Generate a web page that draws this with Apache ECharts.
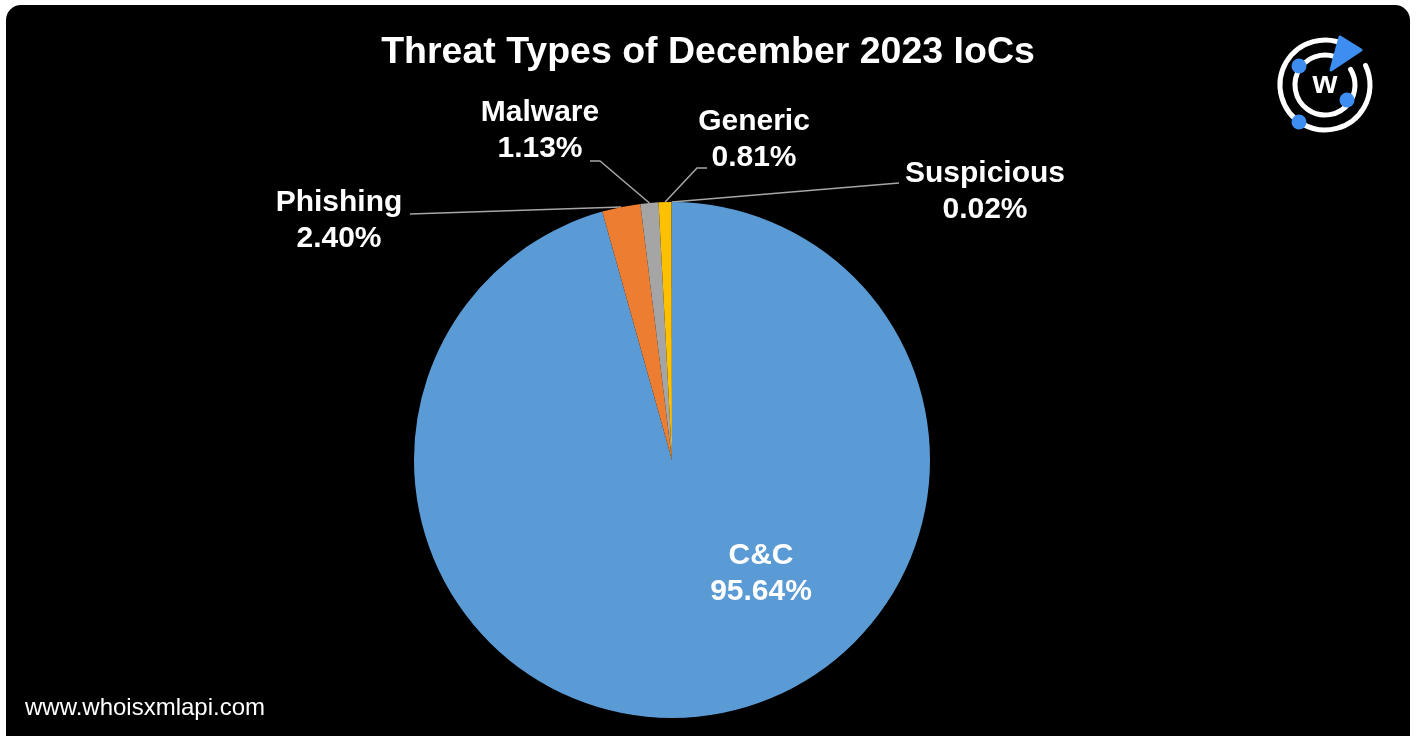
<!DOCTYPE html>
<html>
<head>
<meta charset="utf-8">
<script src="https://cdn.jsdelivr.net/npm/echarts@6/dist/echarts.min.js"></script>
<style>
  html, body { margin: 0; padding: 0; background: #ffffff; }
  #chart { width: 1416px; height: 736px; }
</style>
</head>
<body>
<div id="chart"></div>
<script>
// ---- data ----
var categories = ['C&C', 'Phishing', 'Malware', 'Generic', 'Suspicious'];
var shares = [95.64, 2.40, 1.13, 0.81, 0.02];
var colors = ['#5B9BD5', '#ED7D31', '#A5A5A5', '#FFC000', '#4472C4'];
var titleText = 'Threat Types of December 2023 IoCs';
var footerText = 'www.whoisxmlapi.com';

// ---- layout (styles, not data) ----
var CX = 672, CY = 460, R = 258;
// label block centres and leader-line tail points for each category
var labelPlacement = [
  { x: 761, y: 574, tail: null },
  { x: 339, y: 221, tail: [[410, 214], [410, 214]] },
  { x: 540, y: 131, tail: [[600, 161], [590, 161]] },
  { x: 754, y: 140, tail: [[697, 168], [707, 168]] },
  { x: 985, y: 192, tail: [[899, 183], [899, 183]] }
];

var total = shares.reduce(function (a, b) { return a + b; }, 0);
function anchorPoint(idx) {
  var before = 0;
  for (var i = 0; i < idx; i++) before += shares[i];
  var midFrac = (before + shares[idx] / 2) / total;
  var ang = (90 - midFrac * 360) * Math.PI / 180;
  return [CX + R * Math.cos(ang), CY - R * Math.sin(ang)];
}

var chart = echarts.init(document.getElementById('chart'), null, { renderer: 'canvas' });

var pieData = categories.map(function (name, i) {
  var item = { name: name, value: shares[i], itemStyle: { color: colors[i] } };
  if (i === 0) {
    item.label = { position: 'inside' };
    item.labelLine = { show: false };
  }
  return item;
});

var option = {
  backgroundColor: '#ffffff',
  animation: false,
  title: {
    text: titleText,
    left: 'center',
    top: 29,
    textStyle: {
      color: '#ffffff',
      fontSize: 37.5,
      fontWeight: 'bold',
      fontFamily: 'Liberation Sans, Arial, sans-serif'
    }
  },
  graphic: [
    {
      type: 'rect',
      z: -10,
      shape: { x: 6, y: 5, width: 1404, height: 770, r: 15 },
      style: { fill: '#000000' }
    },
    {
      type: 'text',
      left: 25,
      top: 696,
      style: {
        text: footerText,
        fill: '#ffffff',
        font: '24px "Liberation Sans", Arial, sans-serif'
      }
    },
    // logo
    {
      type: 'group',
      children: [
        { type: 'arc', shape: { cx: 1325, cy: 85, r: 45, startAngle: -1.05, endAngle: -0.45, clockwise: false },
          style: { stroke: '#ffffff', lineWidth: 5, fill: null, lineCap: 'round' } },
        { type: 'arc', shape: { cx: 1325, cy: 85, r: 30, startAngle: -0.95, endAngle: -0.55, clockwise: false },
          style: { stroke: '#ffffff', lineWidth: 5, fill: null, lineCap: 'round' } },
        { type: 'polygon', shape: { points: [[1340, 37], [1361, 50], [1331, 70]] },
          style: { fill: '#3D8EF0', stroke: '#3D8EF0', lineWidth: 3, lineJoin: 'round' } },
        { type: 'circle', shape: { cx: 1299, cy: 66, r: 7.5 }, style: { fill: '#3D8EF0' } },
        { type: 'circle', shape: { cx: 1347, cy: 100, r: 7.5 }, style: { fill: '#3D8EF0' } },
        { type: 'circle', shape: { cx: 1299, cy: 122, r: 7.5 }, style: { fill: '#3D8EF0' } },
        { type: 'text', x: 1325, y: 84,
          style: { text: 'w', fill: '#ffffff', font: 'bold 32px "Liberation Sans", Arial, sans-serif',
                   textAlign: 'center', textVerticalAlign: 'middle' } }
      ]
    }
  ],
  series: [
    {
      type: 'pie',
      center: [CX, CY],
      radius: [0, R],
      startAngle: 90,
      clockwise: true,
      avoidLabelOverlap: false,
      emphasis: { disabled: true },
      itemStyle: { borderWidth: 0 },
      label: {
        show: true,
        position: 'outside',
        color: '#ffffff',
        fontSize: 30,
        fontWeight: 'bold',
        lineHeight: 36,
        fontFamily: 'Liberation Sans, Arial, sans-serif',
        formatter: function (p) { return p.name + '\n' + p.value.toFixed(2) + '%'; }
      },
      labelLine: {
        show: true,
        length: 10,
        length2: 10,
        lineStyle: { color: '#A6A6A6', width: 1.5 }
      },
      labelLayout: function (p) {
        var pl = labelPlacement[p.dataIndex];
        var out = { x: pl.x, y: pl.y, align: 'center', verticalAlign: 'middle' };
        if (pl.tail) {
          out.labelLinePoints = [anchorPoint(p.dataIndex)].concat(pl.tail);
        }
        return out;
      },
      data: pieData
    }
  ]
};

chart.setOption(option);
</script>
</body>
</html>
